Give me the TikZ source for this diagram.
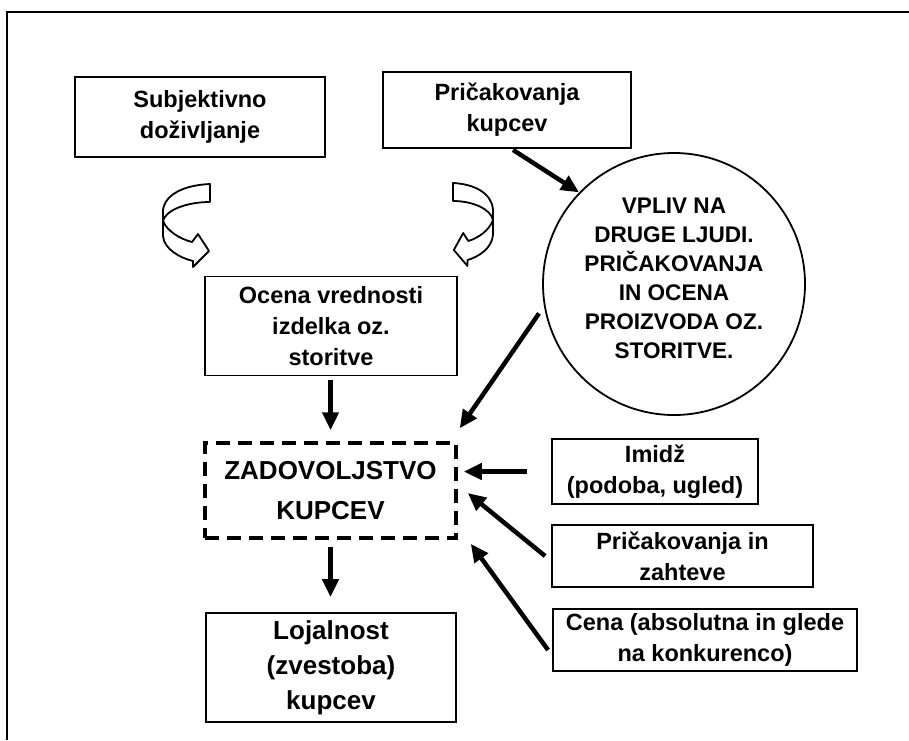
\documentclass[tikz,border=0pt]{standalone}
\usepackage{fontspec}
\setmainfont{Liberation Sans}
\usetikzlibrary{arrows.meta,calc}

\begin{document}
\begin{tikzpicture}[x=1pt,y=-1pt,
  box/.style={draw, line width=1.8pt, inner sep=0pt, align=center,
    font=\bfseries\fontsize{23.5}{31}\selectfont},
  dbox/.style={draw, line width=3.5pt, dash pattern=on 14pt off 8pt,
    inner sep=0pt, align=center, font=\bfseries\fontsize{26}{40}\selectfont},
  ring/.style={draw, circle, line width=1.8pt, inner sep=0pt, align=center,
    font=\bfseries\fontsize{22.6}{29}\selectfont},
  arr/.style={line width=4.5pt, -{Triangle[length=18pt,width=16pt]}},
  hollow/.style={draw, fill=white, line width=1.8pt, line join=round},
  uturn/.pic={
    \draw[hollow] (0,0) .. controls (-25,1) and (-45,10) .. (-47,26)
      -- (-47,52) .. controls (-46,65) and (-30,74) .. (-17,77)
      -- (-17,83) -- (-1,67) -- (-12,50) -- (-18,58)
      .. controls (-30,55) and (-43,47) .. (-47,37)
      .. controls (-45,27) and (-25,18) .. (0,18) -- cycle;
  }]

\useasboundingbox (0,0) rectangle (909,740);

% outer frame (open on the right and at the bottom)
\draw[line width=2pt] (7,740) -- (7,12) -- (909,12);

% top row
\node[box, minimum width=250pt, minimum height=80pt] (subj) at (200,117)
  {Subjektivno\\doživljanje};
\node[box, minimum width=248pt, minimum height=76pt] (prik) at (507,110)
  {Pričakovanja\\kupcev};

% influence circle (the strut on the last line lifts the text a little)
\node[ring, minimum size=262pt] (circ) at (674,284)
  {VPLIV NA\\DRUGE LJUDI.\\PRIČAKOVANJA\\IN OCENA\\PROIZVODA OZ.\\STORITVE.\rule[-12pt]{0pt}{12pt}};

% curved hollow arrows
\pic at (210,184) {uturn};
\pic[xscale=-0.85] at (453,183) {uturn};

% central column
\node[box, minimum width=252pt, minimum height=99pt] (ocena) at (331,326)
  {Ocena vrednosti\\izdelka oz.\\storitve};
\node[dbox, minimum width=251pt, minimum height=95pt] (zad) at (330.5,490.5)
  {ZADOVOLJSTVO\\KUPCEV};
\node[box, minimum width=250pt, minimum height=109pt,
  font=\bfseries\fontsize{26}{35}\selectfont] (loj) at (331,667.5)
  {Lojalnost\\(zvestoba)\\kupcev};

% factors on the right
\node[box, minimum width=206pt, minimum height=65pt] (imidz) at (655,471.5)
  {Imidž\\(podoba, ugled)};
\node[box, minimum width=261pt, minimum height=62pt] (prik2) at (682.5,556)
  {Pričakovanja in\\zahteve};
\node[box, minimum width=304pt, minimum height=62pt] (cena) at (705,640)
  {Cena (absolutna in glede\\na konkurenco)};

% connectors
\draw[arr] ([shift={(6,1)}]prik.south) -- (circ.136);
\draw[arr] ([shift={(-6,2)}]circ.192) -- ([shift={(2,-13)}]zad.north east);
\draw[arr, shorten <=4pt, shorten >=11pt] (ocena.south -| zad.north) -- (zad.north);
\draw[arr, shorten <=7pt, shorten >=15pt] (zad.south) -- (zad.south |- loj.north);
\draw[arr] ([xshift=-24pt]imidz.west) -- ([xshift=6pt]imidz.west -| zad.east);
\draw[arr] ([shift={(-6,0)}]prik2.west) -- ([shift={(10,2.5)}]zad.east);
\draw[arr] ([shift={(-4,10)}]cena.west) -- ([shift={(13,4)}]zad.south east);

\end{tikzpicture}
\end{document}
